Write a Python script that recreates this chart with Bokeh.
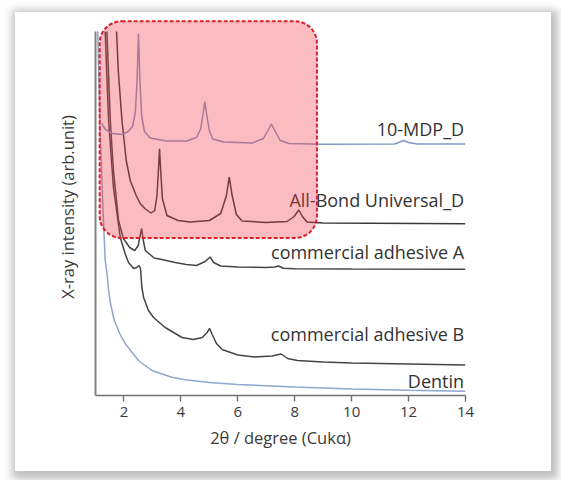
from bokeh.plotting import figure
from bokeh.models import Range1d, LinearAxis, FixedTicker, BoxAnnotation
from bokeh.core.properties import value
from bokeh.embed import file_html
from bokeh.resources import INLINE

# ---- data (2theta in degrees, intensity in arbitrary units) ----
dentin_x = [1.08, 1.16, 1.28, 1.34, 1.40, 1.46, 1.52, 1.66, 1.85, 2.04, 2.51, 2.98, 3.68, 4.15, 5, 6, 8, 10, 12, 14]
dentin_y = [36.4, 26.5, 17.5, 13.5, 12.3, 10.5, 9.3, 7.5, 6.2, 5.2, 3.5, 2.5, 1.83, 1.57, 1.3, 1.1, 0.85, 0.65, 0.52, 0.43]

adhB_x = [1.34, 1.46, 1.63, 1.87, 2.04, 2.16, 2.34, 2.45, 2.53, 2.58, 2.63, 2.69, 2.86, 3.04, 3.16, 3.45, 4.04, 4.44,
          4.75, 4.92, 5.01, 5.1, 5.25, 5.45, 6.0, 6.58, 7.2, 7.52, 7.75, 8.09, 9, 10, 12, 14]
adhB_y = [36.4, 27.5, 20.8, 15.8, 14.2, 13.3, 12.7, 12.8, 13.0, 12.7, 10.8, 9.8, 8.5, 7.8, 7.5, 6.8, 5.8, 5.6,
          5.8, 6.3, 6.7, 6.1, 5.2, 4.6, 4.05, 3.85, 3.95, 4.15, 3.7, 3.5, 3.35, 3.25, 3.15, 3.05]

adhA_x = [1.40, 1.52, 1.63, 1.81, 1.98, 2.2, 2.38, 2.5, 2.57, 2.62, 2.68, 2.75, 3.06, 3.33, 3.8, 4.19, 4.55, 4.85,
          5.03, 5.15, 5.4, 6.0, 7.0, 7.3, 7.43, 7.6, 8.0, 10, 14]
adhA_y = [36.4, 27.5, 22.5, 17.5, 15.7, 14.8, 14.5, 15.0, 16.0, 16.7, 15.5, 14.5, 13.75, 13.6, 13.3, 13.1, 13.0, 13.4,
          13.85, 13.3, 12.95, 12.85, 12.8, 12.85, 12.95, 12.72, 12.68, 12.65, 12.63]

allbond_x = [1.74, 1.80, 1.93, 2.08, 2.22, 2.43, 2.57, 2.75, 2.95, 3.08, 3.16, 3.21, 3.25, 3.29, 3.35, 3.51, 3.9, 4.33,
             5.0, 5.4, 5.6, 5.70, 5.8, 5.95, 6.15, 7.0, 7.73, 7.98, 8.14, 8.27, 8.43, 9, 14]
allbond_y = [36.4, 32.5, 27.5, 23.5, 21.5, 20.0, 19.2, 18.65, 18.25, 18.5, 20.0, 22.5, 24.67, 22.5, 19.7, 18.0, 17.5, 17.35,
             17.5, 18.2, 20.0, 21.83, 20.0, 18.1, 17.45, 17.3, 17.4, 17.9, 18.55, 17.9, 17.35, 17.25, 17.17]

mdp_x = [1.22, 1.35, 1.6, 1.93, 2.15, 2.3, 2.4, 2.46, 2.51, 2.56, 2.62, 2.72, 2.92, 3.5, 4.2, 4.55, 4.7, 4.78, 4.84,
         4.9, 5.0, 5.12, 5.5, 6.5, 6.9, 7.08, 7.18, 7.3, 7.49, 7.8, 9, 11.5, 11.7, 11.83, 12.0, 12.3, 14]
mdp_y = [27.2, 26.6, 26.2, 26.1, 26.4, 26.9, 28.3, 31.5, 36.17, 31.5, 28.0, 26.4, 25.75, 25.45, 25.45, 25.8, 26.7, 28.2, 29.4,
         28.2, 26.5, 25.65, 25.35, 25.25, 25.7, 26.6, 27.15, 26.5, 25.5, 25.2, 25.13, 25.15, 25.35, 25.5, 25.3, 25.15, 25.15]

labels = ["10-MDP_D", "All-Bond Universal_D", "commercial adhesive A", "commercial adhesive B", "Dentin"]
label_y = [26.67, 19.6, 14.33, 6.17, 1.5]
x_ticks = [2, 4, 6, 8, 10, 12, 14]

FONT = "Open Sans"
DARK = "#454545"

p = figure(width=536, height=459, output_backend="svg", toolbar_location=None,
           x_range=Range1d(1.0, 14.0), y_range=Range1d(0, 37.7),
           x_axis_location=None, y_axis_location=None, title=None,
           min_border_left=80, min_border_right=86, min_border_top=6, min_border_bottom=76)
p.margin = (12, 10, 9, 15)
p.styles = {"box-shadow": "2px 3px 8px 5px rgba(0,0,0,0.25)"}
p.background_fill_color = "white"
p.border_fill_color = "white"
p.outline_line_color = None
p.grid.visible = False

xaxis = LinearAxis(ticker=FixedTicker(ticks=x_ticks), axis_label="2θ / degree (Cukα)")
xaxis.axis_line_color = "#707070"
xaxis.axis_line_width = 1.6
xaxis.major_tick_line_color = "#707070"
xaxis.major_tick_line_width = 1.4
xaxis.major_tick_in = 0
xaxis.major_tick_out = 6
xaxis.minor_tick_line_color = None
xaxis.major_label_text_font = FONT
xaxis.major_label_text_font_size = "15px"
xaxis.major_label_text_color = "#3a3a3a"
xaxis.major_label_standoff = 5
xaxis.axis_label_text_font = FONT
xaxis.axis_label_text_font_size = "16.5px"
xaxis.axis_label_text_font_style = "normal"
xaxis.axis_label_text_color = "#3a3a3a"
xaxis.axis_label_standoff = 6
p.add_layout(xaxis, "below")

yaxis = LinearAxis(ticker=FixedTicker(ticks=[]), axis_label="X-ray intensity (arb.unit)", bounds=(0, 36.4))
yaxis.axis_line_color = "#808080"
yaxis.axis_line_width = 2
yaxis.major_tick_line_color = None
yaxis.minor_tick_line_color = None
yaxis.major_tick_out = 0
yaxis.major_tick_in = 0
yaxis.axis_label_text_font = FONT
yaxis.axis_label_text_font_size = "16.5px"
yaxis.axis_label_text_font_style = "normal"
yaxis.axis_label_text_color = "#3a3a3a"
yaxis.axis_label_standoff = 17
p.add_layout(yaxis, "left")

p.line(dentin_x, dentin_y, line_color="#8fa6cd", line_width=1.5)
p.line(adhB_x, adhB_y, line_color=DARK, line_width=1.5)
p.line(adhA_x, adhA_y, line_color=DARK, line_width=1.5)
p.line(allbond_x, allbond_y, line_color="#3a3a3a", line_width=1.5)
p.line(mdp_x, mdp_y, line_color="#8599c0", line_width=1.5)

box = BoxAnnotation(left=1.146, right=8.78, bottom=15.75, top=37.43, border_radius=22,
                    fill_color="#f03a46", fill_alpha=0.34,
                    line_color="#d9202b", line_alpha=1.0, line_width=2, line_dash="4 2")
p.add_layout(box)

p.text(x=[13.95] * len(labels), y=label_y, text=labels, text_align="right", text_baseline="middle",
       text_font=value(FONT), text_font_size="18px", text_color="#333333")

open("out.html", "w").write(file_html(p, INLINE))
